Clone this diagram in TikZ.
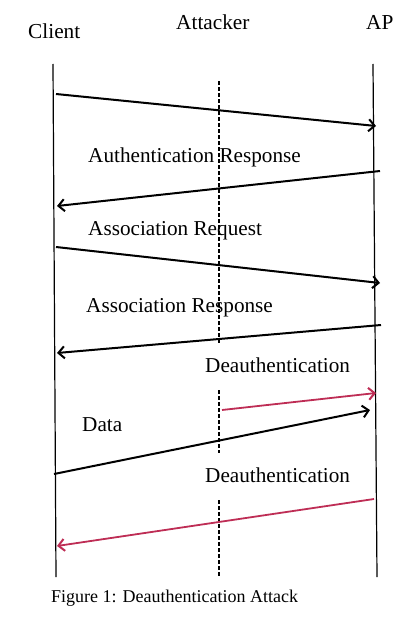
\documentclass[tikz,border=0pt]{standalone}
\usepackage{fontspec}
\setmainfont{Liberation Serif}
\usetikzlibrary{arrows.meta}
\definecolor{deauthRed}{RGB}{190, 45, 85}

\tikzset{
    lifeline/.style={line width=1.2pt},
    attackline/.style={line width=1.2pt, dash pattern=on 4pt off 2pt},
    msg/.style={line width=2pt, -{Straight Barb[length=6pt,width=12pt,line width=2pt]}},
    label/.style={anchor=base west, inner sep=0pt, font=\fontsize{21.2}{25}\selectfont},
    head/.style={anchor=base west, inner sep=0pt, font=\fontsize{21.3}{25}\selectfont}
}

\begin{document}
\begin{tikzpicture}[x=1pt, y=-1pt]
        \useasboundingbox (0, 0) rectangle (406, 626);

        % lifelines
        \coordinate (clientTop) at ( 53,  64);
        \coordinate (clientBot) at ( 56, 577);
        \coordinate (apTop)     at (373,  64);
        \coordinate (apBot)     at (377, 577);
        \draw[lifeline] (clientTop) -- (clientBot);
        \draw[lifeline] (apTop) -- (apBot);

        \coordinate (att1) at (219,  81);
        \coordinate (att2) at (219, 343);
        \coordinate (att3) at (219, 390);
        \coordinate (att4) at (219, 453);
        \coordinate (att5) at (219, 500);
        \coordinate (att6) at (219, 577);
        \draw[attackline] (att1) -- (att2);
        \draw[attackline] (att3) -- (att4);
        \draw[attackline] (att5) -- (att6);

        \node[head] (client)   at ( 28, 39) {Client};
        \node[head] (attacker) at (176, 30) {Attacker};
        \node[head] (ap)       at (366, 30) {AP};

        % messages
        \coordinate (c1) at ( 56,  94);  \coordinate (a1) at (376, 126);
        \coordinate (a2) at (380, 171);  \coordinate (c2) at ( 57, 206);
        \coordinate (c3) at ( 56, 247);  \coordinate (a3) at (380, 283);
        \coordinate (a4) at (381, 325);  \coordinate (c4) at ( 57, 353);
        \coordinate (x5) at (222, 410);  \coordinate (a5) at (376, 393);
        \coordinate (c6) at ( 54, 474);  \coordinate (a6) at (370, 410);
        \coordinate (a7) at (374, 499);  \coordinate (c7) at ( 57, 546);

        \draw[msg] (c1) -- (a1);
        \draw[msg] (a2) -- (c2);
        \draw[msg] (c3) -- (a3);
        \draw[msg] (a4) -- (c4);
        \draw[msg, deauthRed, line width=1.8pt] (x5) -- (a5);
        \draw[msg] (c6) -- (a6);
        \draw[msg, deauthRed, line width=1.8pt] (a7) -- (c7);

        \node[label] (authResp)   at ( 88, 162) {Authentication Response};
        \node[label] (assocReq)   at ( 88, 235) {Association Request};
        \node[label] (assocResp)  at ( 86, 312) {Association Response};
        \node[label] (deauthOne)  at (205, 372) {Deauthentication};
        \node[label] (data)       at ( 82, 431) {Data};
        \node[label] (deauthTwo)  at (205, 482) {Deauthentication};

        \node[anchor=base west, inner sep=0pt, font=\fontsize{18}{22}\selectfont] (caption) at (51, 602) {Figure 1: Deauthentication Attack};
    \end{tikzpicture}
\end{document}
